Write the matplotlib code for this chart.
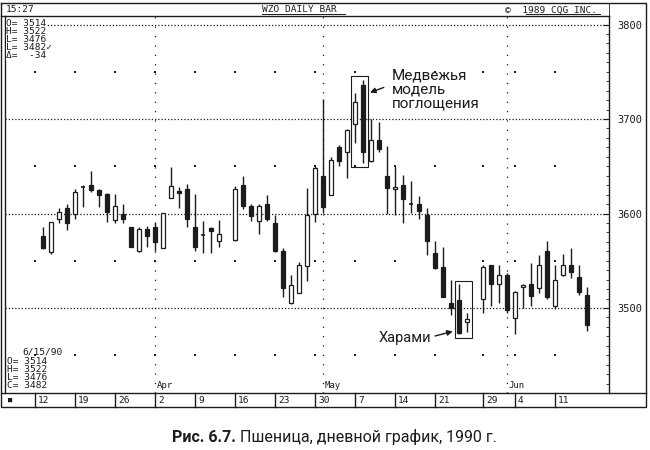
import matplotlib
matplotlib.use('Agg')
import matplotlib.pyplot as plt
import numpy as np
import pandas as pd
from matplotlib.patches import Rectangle

# ---------------- data ----------------
dates = ['1990-03-13', '1990-03-14', '1990-03-15', '1990-03-16', '1990-03-19', '1990-03-20',
         '1990-03-21', '1990-03-22', '1990-03-23', '1990-03-26', '1990-03-27', '1990-03-28',
         '1990-03-29', '1990-03-30', '1990-04-02', '1990-04-03', '1990-04-04', '1990-04-05',
         '1990-04-06', '1990-04-09', '1990-04-10', '1990-04-11', '1990-04-12', '1990-04-16',
         '1990-04-17', '1990-04-18', '1990-04-19', '1990-04-20', '1990-04-23', '1990-04-24',
         '1990-04-25', '1990-04-26', '1990-04-27', '1990-04-30', '1990-05-01', '1990-05-02',
         '1990-05-03', '1990-05-04', '1990-05-07', '1990-05-08', '1990-05-09', '1990-05-10',
         '1990-05-11', '1990-05-14', '1990-05-15', '1990-05-16', '1990-05-17', '1990-05-18',
         '1990-05-21', '1990-05-22', '1990-05-23', '1990-05-24', '1990-05-25', '1990-05-29',
         '1990-05-30', '1990-05-31', '1990-06-01', '1990-06-04', '1990-06-05', '1990-06-06',
         '1990-06-07', '1990-06-08', '1990-06-11', '1990-06-12', '1990-06-13', '1990-06-14',
         '1990-06-15']
opens = [3576, 3559, 3594, 3606, 3600, 3628, 3630, 3625, 3621, 3593, 3600, 3586,
         3560, 3584, 3586, 3564, 3616, 3624, 3626, 3586, 3577, 3585, 3571, 3572,
         3630, 3608, 3592, 3610, 3590, 3560, 3505, 3516, 3544, 3600, 3640, 3620,
         3670, 3665, 3695, 3736, 3656, 3678, 3640, 3626, 3630, 3610, 3610, 3598,
         3558, 3543, 3505, 3508, 3485, 3510, 3545, 3525, 3535, 3489, 3522, 3525,
         3521, 3560, 3502, 3535, 3545, 3533, 3514]
highs = [3586, 3591, 3606, 3610, 3626, 3630, 3645, 3626, 3622, 3621, 3610, 3586,
         3586, 3587, 3591, 3601, 3649, 3628, 3631, 3621, 3592, 3586, 3593, 3629,
         3640, 3610, 3610, 3620, 3598, 3564, 3535, 3549, 3627, 3650, 3721, 3660,
         3672, 3689, 3727, 3741, 3700, 3697, 3671, 3650, 3641, 3634, 3618, 3606,
         3571, 3565, 3530, 3525, 3495, 3545, 3546, 3545, 3537, 3518, 3525, 3548,
         3556, 3571, 3545, 3557, 3564, 3545, 3522]
lows = [3562, 3557, 3590, 3583, 3594, 3607, 3623, 3607, 3591, 3590, 3590, 3565,
        3559, 3565, 3560, 3563, 3616, 3606, 3586, 3560, 3558, 3558, 3565, 3571,
        3605, 3592, 3578, 3592, 3559, 3512, 3504, 3516, 3529, 3591, 3601, 3620,
        3650, 3638, 3675, 3653, 3655, 3665, 3600, 3598, 3590, 3601, 3594, 3556,
        3541, 3512, 3493, 3472, 3475, 3495, 3502, 3505, 3495, 3472, 3500, 3502,
        3516, 3510, 3499, 3534, 3532, 3514, 3476]
closes = [3563, 3591, 3602, 3590, 3623, 3628, 3625, 3620, 3602, 3608, 3594, 3565,
          3584, 3576, 3570, 3601, 3629, 3622, 3594, 3565, 3577, 3581, 3578, 3626,
          3608, 3597, 3608, 3594, 3560, 3521, 3524, 3545, 3598, 3648, 3607, 3657,
          3656, 3688, 3718, 3665, 3678, 3668, 3627, 3628, 3615, 3610, 3603, 3571,
          3542, 3512, 3500, 3474, 3488, 3543, 3525, 3535, 3498, 3517, 3524, 3513,
          3545, 3512, 3530, 3545, 3538, 3517, 3482]

week_labels = ['12', '19', '26', '2', '9', '16', '23', '30', '7', '14', '21', '29', '4', '11']
week_dates = ['1990-03-12', '1990-03-19', '1990-03-26', '1990-04-02', '1990-04-09',
              '1990-04-16', '1990-04-23', '1990-04-30', '1990-05-07', '1990-05-14',
              '1990-05-21', '1990-05-29', '1990-06-04', '1990-06-11']
month_labels = ['Apr', 'May', 'Jun']
month_dates = ['1990-04-02', '1990-05-01', '1990-06-01']
price_ticks = [3500, 3600, 3700, 3800]
dot_levels = [3450, 3550, 3650, 3750]

# ---------------- layout ----------------
W, H = 650, 450
MONO = ['DejaVu Sans Mono', 'DejaVu Sans']
SANS = ['Roboto', 'DejaVu Sans']
INK = '#1c1c1c'

slots = pd.bdate_range('1990-03-12', '1990-06-15').strftime('%Y-%m-%d')
slot_of = {d: i for i, d in enumerate(slots)}
x = np.array([slot_of[d] for d in dates], dtype=float)
o = np.array(opens, float); h = np.array(highs, float)
l = np.array(lows, float); c = np.array(closes, float)

fig = plt.figure(figsize=(W / 100, H / 100), dpi=100)
fig.patch.set_facecolor('white')

# plot area in pixels: left 5, right 609, top 16, bottom 393
PL, PR, PT, PB = 5, 609, 16, 393
ax = fig.add_axes([PL / W, (H - PB) / H, (PR - PL) / W, (PB - PT) / H], zorder=1)
X0, DX = 35, 8  # pixel of slot 0, pixels per slot
ax.set_xlim((PL - X0) / DX, (PR - X0) / DX)
P0, Y0, K = 3500, 308, 0.945
ax.set_ylim(P0 + (Y0 - PB) / K, P0 + (Y0 - PT) / K)

for s in ['top', 'left', 'bottom']:
    ax.spines[s].set_visible(False)
ax.spines['right'].set_color(INK)
ax.spines['right'].set_linewidth(1.0)

ax.set_xticks([])
ax.yaxis.tick_right()
ax.set_yticks(price_ticks)
ax.set_yticklabels([str(p) for p in price_ticks], family=MONO, fontsize=7.5, color=INK)
ax.set_yticks(np.arange(3420, 3810, 10), minor=True)
ax.tick_params(axis='y', which='major', direction='in', length=4, width=0.8, pad=6, colors=INK)
ax.tick_params(axis='y', which='minor', direction='in', length=2, width=0.6, colors=INK)

# grid
xl = ax.get_xlim()
ax.hlines(price_ticks, xl[0], xl[1], colors=INK, linestyles=(0, (1, 1.6)), lw=0.9, zorder=0)
wx = np.array([slot_of[d] for d in week_dates], float)
gx, gy = np.meshgrid(wx, dot_levels)
ax.scatter(gx.ravel(), gy.ravel(), s=1.2, marker='s', color=INK, lw=0, zorder=0)
mx = np.array([slot_of[d] for d in month_dates], float)
for m, lab in zip(mx, month_labels):
    ax.axvline(m, color=INK, lw=0.9, ls=(0, (1, 6.5)), zorder=0)
    ax.text(m + 0.2, P0 + (Y0 - 386) / K, lab, family=MONO, fontsize=6.5, color=INK,
            ha='left', va='center')

# candles
ax.vlines(x, l, h, colors=INK, lw=1.0, zorder=2)
bw = 0.62
doji = np.abs(c - o) < 0.5
up = (c > o) & ~doji
dn = (c < o) & ~doji
ax.bar(x[up], (c - o)[up], bottom=o[up], width=bw, color='white', edgecolor=INK, lw=0.9, zorder=3)
ax.bar(x[dn], (o - c)[dn], bottom=c[dn], width=bw, color=INK, edgecolor=INK, lw=0.9, zorder=3)
ax.hlines(c[doji], x[doji] - bw / 2, x[doji] + bw / 2, colors=INK, lw=1.2, zorder=3)

# pattern boxes
def box(i0, i1, padx=0.5, pad=4):
    xa = x[i0] - padx; xb = x[i1] + padx + 0.1
    ya = l[i0:i1 + 1].min() - pad; yb = h[i0:i1 + 1].max() + pad
    ax.add_patch(Rectangle((xa, ya), xb - xa, yb - ya, fill=False, ec=INK, lw=0.8, zorder=4))

i_eng = dates.index('1990-05-07')
i_har = dates.index('1990-05-24')
box(i_eng, i_eng + 1, pad=4)
box(i_har, i_har + 1, pad=4)

# annotations
tip1 = (x[i_eng + 1] + 0.55, o[i_eng + 1] - 9)
ax.annotate('', xy=tip1, xytext=(19 * 0.72, 7 * 0.72), textcoords='offset points',
            arrowprops=dict(arrowstyle='-|>', color=INK, lw=1.0, mutation_scale=8), zorder=5)
ax.annotate('Медвежья\nмодель\nпоглощения', xy=tip1, xytext=(24 * 0.72, 25 * 0.72),
            textcoords='offset points', ha='left', va='top', family=SANS, fontsize=11,
            color=INK, linespacing=1.0, zorder=5)
tip2 = (x[i_har] - 0.45, c[i_har] + 2)
ax.annotate('', xy=tip2, xytext=(-23 * 0.72, -6 * 0.72), textcoords='offset points',
            arrowprops=dict(arrowstyle='-|>', color=INK, lw=1.0, mutation_scale=8), zorder=5)
ax.annotate('Харами', xy=tip2, xytext=(-24 * 0.72, -7 * 0.72), textcoords='offset points',
            ha='right', va='center', family=SANS, fontsize=10.5, color=INK, zorder=5)

# ---------------- CQG frame overlay (pixel coordinates) ----------------
ov = fig.add_axes([0, 0, 1, 1], zorder=2)
ov.set_xlim(0, W); ov.set_ylim(H, 0); ov.axis('off'); ov.patch.set_alpha(0)
lk = dict(color=INK, lw=1.0)
ov.plot([1, 646, 646, 1, 1], [2.5, 2.5, 407, 407, 2.5], **lk)
ov.plot([1, PR], [PT, PT], **lk)
ov.plot([PL, PL], [PT, PB], **lk)
ov.plot([1, 646], [PB, PB], **lk)
sep_px = X0 + DX * wx
for sx in sep_px:
    ov.plot([sx, sx], [PB, 407], **lk)
ov.plot([PR, PR], [2.5, PT], color=INK, lw=0.6)

mono = dict(family=MONO, fontsize=6.8, color=INK, va='center')
ov.text(6, 10, '15:27', ha='left', **mono)
ov.text(262, 10, 'WZO DAILY BAR', ha='left', **mono)
ov.plot([262, 345], [14, 14], color=INK, lw=0.7)
ov.text(505, 10, '©  1989 CQG INC.', ha='left', **mono)
ov.plot([526, 600], [14, 14], color=INK, lw=0.7)

info_top = ['O= 3514', 'H= 3522', 'L= 3476', 'L= 3482\u2713', '\u0394=  -34']
for k, t in enumerate(info_top):
    ov.text(6, 24 + 8 * k, t, ha='left', bbox=dict(fc='white', ec='none', pad=0.3), **mono)
info_bot = ['O= 3514', 'H= 3522', 'L= 3476', 'C= 3482']
ov.text(22, 352, '6/15/90', ha='left', **mono)
for k, t in enumerate(info_bot):
    ov.text(7, 361 + 8 * k, t, ha='left', **mono)

ov.text(8, 400, '\u25a0', ha='left', family=MONO, fontsize=5, color=INK, va='center')
for sx, lab in zip(sep_px, week_labels):
    ov.text(sx + 3, 400.5, lab, ha='left', **mono)

# caption
ov.text(236, 437, 'Рис. 6.7.', ha='right', va='center', family=SANS, fontsize=11.5,
        fontweight='bold', color=INK)
ov.text(236, 437, ' Пшеница, дневной график, 1990 г.', ha='left', va='center',
        family=SANS, fontsize=11.5, color=INK)

fig.savefig('out.png', dpi=100, facecolor='white')
